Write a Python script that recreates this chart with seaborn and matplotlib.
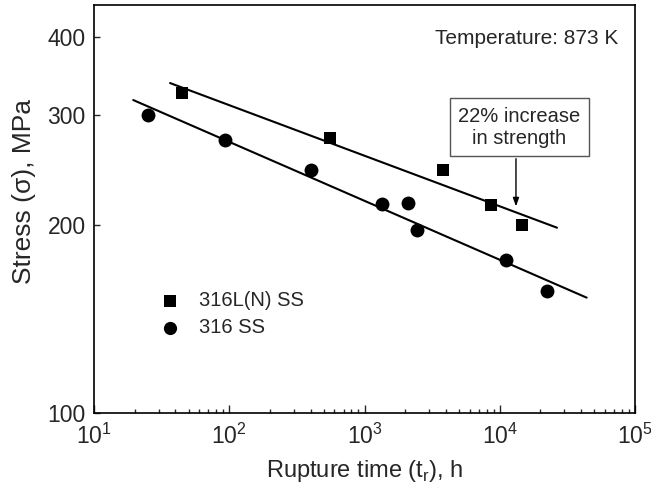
import matplotlib
matplotlib.use("Agg")
import matplotlib.pyplot as plt
import numpy as np
import pandas as pd
import seaborn as sns
from matplotlib.ticker import FixedLocator, FixedFormatter, NullLocator, LogLocator

# ---- data ----
ln_time = [44.7, 556, 3800, 8610, 14600]
ln_stress = [325, 276, 245, 215, 200]
ss_time = [25.2, 93, 402, 1340, 2085, 2430, 11070, 22230]
ss_stress = [300, 274, 245, 216, 216.5, 196, 176, 157]
ln_fit_time = [36.5, 26500]
ln_fit_stress = [337.5, 198]
ss_fit_time = [19.5, 43900]
ss_fit_stress = [317, 153]
y_ticks = [100, 200, 300, 400]
series_names = ["316L(N) SS", "316 SS"]

sns.set_style("ticks")
plt.rcParams["font.family"] = ["Liberation Sans", "DejaVu Sans"]
plt.rcParams["mathtext.fontset"] = "custom"
plt.rcParams["mathtext.rm"] = "Liberation Sans"

fig = plt.figure(figsize=(6.51, 4.95), dpi=100)
ax = fig.add_axes([94/651, 1-413/495, (635-94)/651, (413-5)/495])
ax.set_xscale("log")
ax.set_yscale("log")

df_ln = pd.DataFrame({"time": ln_time, "stress": ln_stress})
df_ss = pd.DataFrame({"time": ss_time, "stress": ss_stress})
df_lnf = pd.DataFrame({"time": ln_fit_time, "stress": ln_fit_stress})
df_ssf = pd.DataFrame({"time": ss_fit_time, "stress": ss_fit_stress})

sns.lineplot(data=df_lnf, x="time", y="stress", color="black", lw=1.5, ax=ax, legend=False)
sns.lineplot(data=df_ssf, x="time", y="stress", color="black", lw=1.5, ax=ax, legend=False)
sns.scatterplot(data=df_ln, x="time", y="stress", marker="s", s=80, color="black",
                edgecolor="black", linewidth=0, ax=ax, label=series_names[0], zorder=3)
sns.scatterplot(data=df_ss, x="time", y="stress", marker="o", s=100, color="black",
                edgecolor="black", linewidth=0, ax=ax, label=series_names[1], zorder=3)

ax.set_xlim(10, 1e5)
ax.set_ylim(100, 450)

ax.yaxis.set_major_locator(FixedLocator(y_ticks))
ax.yaxis.set_major_formatter(FixedFormatter([str(v) for v in y_ticks]))
ax.yaxis.set_minor_locator(NullLocator())
ax.xaxis.set_major_locator(LogLocator(base=10, numticks=10))
ax.xaxis.set_minor_locator(LogLocator(base=10, subs=np.arange(2, 10), numticks=10))

ax.tick_params(axis="x", which="major", direction="in", length=6, width=1, labelsize=16.5, pad=8,
               top=False, bottom=True)
ax.tick_params(axis="x", which="minor", direction="in", length=3, width=1, top=False)
ax.tick_params(axis="y", which="major", direction="in", length=4, width=1, labelsize=16.5, pad=6,
               right=False, left=True)
for sp in ax.spines.values():
    sp.set_linewidth(1.2)
    sp.set_color("black")

ax.set_xlabel(r"Rupture time (t$_\mathregular{r}$), h", fontsize=17, labelpad=6)
ax.set_ylabel("Stress (\u03c3), MPa", fontsize=19)
ax.yaxis.set_label_coords(-0.107, 0.543)

ax.text(0.9686, 0.9167, "Temperature: 873 K", transform=ax.transAxes, ha="right",
        va="center", fontsize=15)

ax.text(13900, 287, "22% increase\nin strength", ha="center", va="center", fontsize=14.5,
        linespacing=1.2,
        bbox=dict(boxstyle="square,pad=0.42", fc="white", ec="#555555", lw=1))
ax.annotate("", xy=(13180, 212), xytext=(13180, 258),
            arrowprops=dict(arrowstyle="-|>,head_length=0.5,head_width=0.18", color="black", lw=1))

leg = ax.legend(loc="center left", bbox_to_anchor=(0.1035, 0.2426), frameon=False,
                fontsize=14.5, handlelength=1.0, handletextpad=0.95, borderpad=0,
                labelspacing=0.4, markerscale=0.95)

fig.savefig("out.png", dpi=100)
